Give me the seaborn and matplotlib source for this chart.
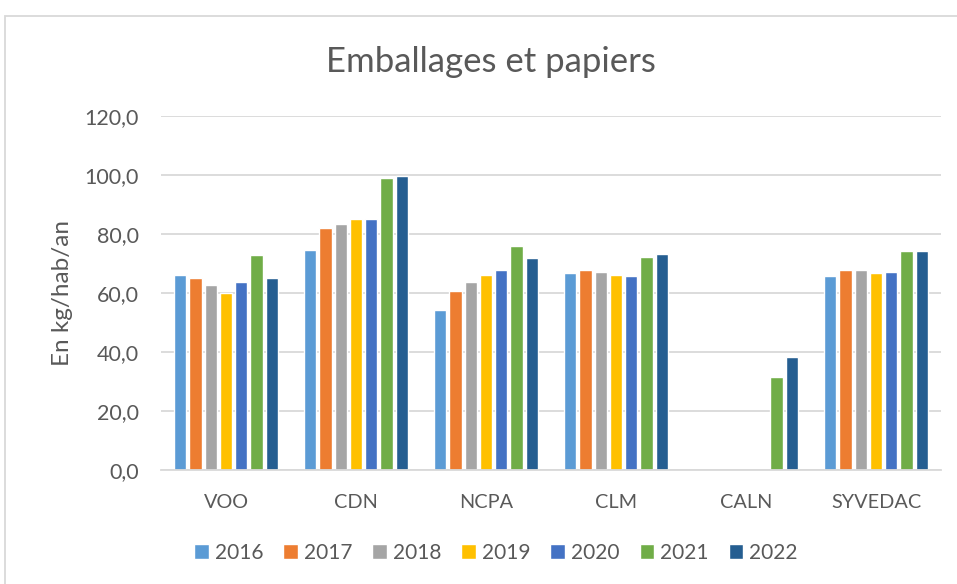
import numpy as np
import pandas as pd
import seaborn as sns
import matplotlib.pyplot as plt
from matplotlib.patches import Rectangle
from matplotlib.ticker import FuncFormatter

# values (kg/hab/an)
categories = ['VOO', 'CDN', 'NCPA', 'CLM', 'CALN', 'SYVEDAC']
years = ['2016', '2017', '2018', '2019', '2020', '2021', '2022']
v2016 = [66.1, 74.5, 54.2, 66.7, 0.0, 65.7]
v2017 = [64.9, 82.0, 60.7, 67.7, 0.0, 67.8]
v2018 = [62.5, 83.3, 63.8, 67.2, 0.0, 67.7]
v2019 = [60.0, 85.0, 66.0, 66.1, 0.0, 66.8]
v2020 = [63.8, 85.0, 67.8, 65.7, 0.0, 66.9]
v2021 = [72.8, 99.0, 75.9, 72.0, 31.4, 74.1]
v2022 = [65.1, 99.7, 71.8, 73.2, 38.2, 74.1]
colors = ['#5B9BD5', '#ED7D31', '#A5A5A5', '#FFC000', '#4472C4', '#70AD47', '#255E91']

series = [v2016, v2017, v2018, v2019, v2020, v2021, v2022]
df = pd.DataFrame({
    'site': categories * len(years),
    'annee': [y for y in years for _ in categories],
    'valeur': [v for s in series for v in s],
})

sns.set_style('white')
plt.rcParams['font.family'] = ['Lato', 'DejaVu Sans']
grey = '#595959'

fig = plt.figure(figsize=(9.57, 5.84), dpi=100)
ax = fig.add_axes([161 / 957, 1 - 470 / 584, 780 / 957, (470 - 115.7) / 584])

sns.barplot(data=df, x='site', y='valeur', hue='annee', hue_order=years,
            palette=colors, width=0.82, gap=0.2, saturation=1, ax=ax)

ax.set_ylim(0, 120)
ax.set_yticks(np.arange(0, 121, 20))
ax.yaxis.set_major_formatter(FuncFormatter(lambda v, p: f'{v:.1f}'.replace('.', ',')))
ax.grid(axis='y', color='#D9D9D9', linewidth=1.3)
ax.set_axisbelow(True)
for s in ['top', 'right', 'left']:
    ax.spines[s].set_visible(False)
ax.spines['bottom'].set_color('#D9D9D9')
ax.spines['bottom'].set_linewidth(1.3)
ax.tick_params(axis='x', length=0, labelsize=14.3, colors=grey, pad=17)
ax.tick_params(axis='y', length=0, labelsize=15.5, colors=grey, pad=16)
ax.set_xlabel('')
ax.set_ylabel('En kg/hab/an', fontsize=17.5, color=grey, labelpad=8)

fig.text(491 / 957, 1 - 62 / 584, 'Emballages et papiers', ha='center', va='center',
         fontsize=25, color=grey)

ax.legend(loc='center', bbox_to_anchor=(496 / 957, 1 - 553 / 584),
          bbox_transform=fig.transFigure, ncol=7, frameon=False, fontsize=15,
          labelcolor=grey, handlelength=0.7, handleheight=0.7, handletextpad=0.3,
          columnspacing=0.95)

fig.patches.append(Rectangle((5 / 957, -0.1), 1.2, 1.1 - 16 / 584, transform=fig.transFigure,
                             fill=False, edgecolor='#D9D9D9', linewidth=1.3, clip_on=False))

fig.savefig('out.png', dpi=100)
